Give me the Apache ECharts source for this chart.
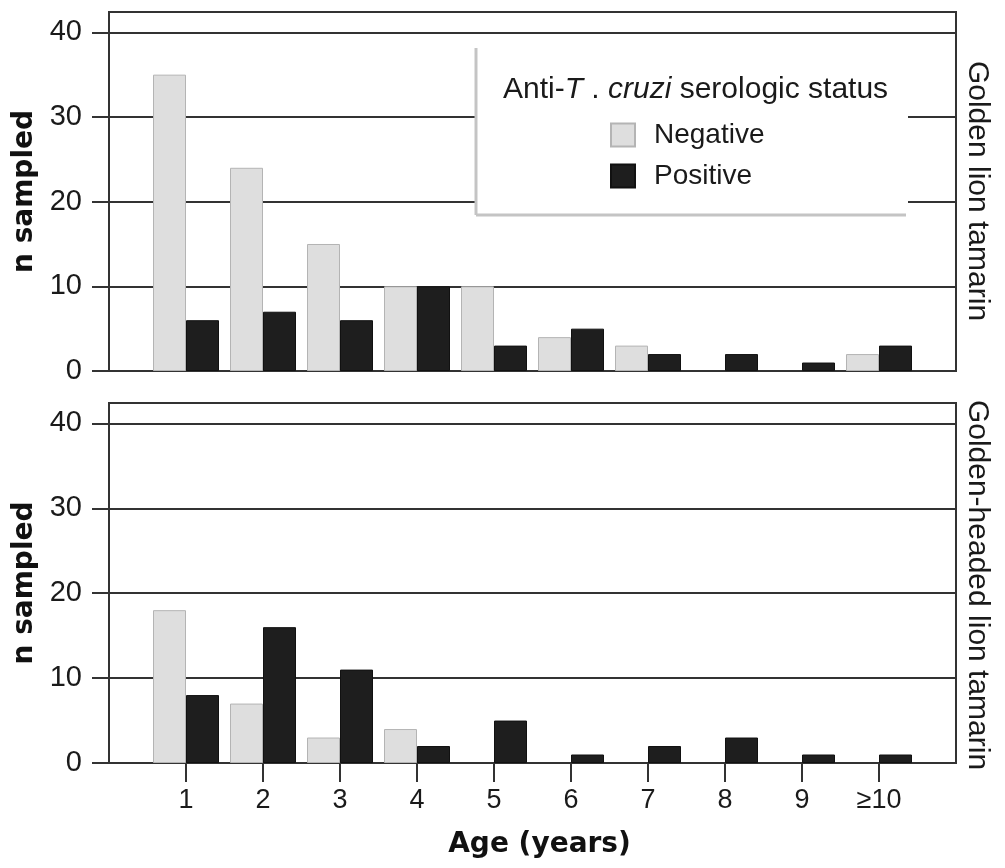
<!DOCTYPE html>
<html>
<head>
<meta charset="utf-8">
<script src="https://cdn.jsdelivr.net/npm/echarts@6/dist/echarts.min.js"></script>
<style>
  html, body { margin: 0; padding: 0; background: #ffffff; }
  #chart { width: 1005px; height: 868px; }
</style>
</head>
<body>
<div id="chart"></div>
<script>
// ---- Data ----
const ageCategories = ['1', '2', '3', '4', '5', '6', '7', '8', '9', '\u226510'];
const seriesNames = ['Negative', 'Positive'];
const panelNames = ['Golden lion tamarin', 'Golden-headed lion tamarin'];

const goldenNegative = [35, 24, 15, 10, 10, 4, 3, 0, 0, 2];
const goldenPositive = [6, 7, 6, 10, 3, 5, 2, 2, 1, 3];

const headedNegative = [18, 7, 3, 4, 0, 0, 0, 0, 0, 0];
const headedPositive = [8, 16, 11, 2, 5, 1, 2, 3, 1, 1];

const yTicks = [0, 10, 20, 30, 40];

// ---- Build ----
// padding slots on both ends so ticks sit where the reference places them
const categories = [''].concat(ageCategories, ['']);
function pad(arr) {
  return [null].concat(arr.map(v => v === 0 ? { value: 0, itemStyle: { borderWidth: 0, opacity: 0 } } : v), [null]);
}

const FONT = '"Liberation Sans", Arial, sans-serif';
const BOLD = '"DejaVu Sans", sans-serif';
const INK = '#1a1a1a';
const LINE = '#333333';

const grids = [
  { left: 109, right: 49, top: 12, height: 359 },
  { left: 109, right: 49, top: 403, height: 360 }
].map(g => Object.assign({
  show: true, borderColor: LINE, borderWidth: 2, backgroundColor: 'transparent'
}, g));

const isAge = (idx) => idx > 0 && idx < categories.length - 1;

const xAxes = [0, 1].map(i => ({
  type: 'category',
  gridIndex: i,
  data: categories,
  boundaryGap: false,
  axisLine: { show: true, lineStyle: { color: LINE, width: 2 } },
  axisTick: i === 1
    ? { show: true, interval: isAge, length: 19, lineStyle: { color: LINE, width: 2 } }
    : { show: false },
  axisLabel: i === 1
    ? { show: true, interval: isAge, margin: 24, fontSize: 27, fontFamily: FONT, color: INK }
    : { show: false },
  splitLine: { show: false },
  name: i === 1 ? 'Age (years)' : '',
  nameLocation: 'middle',
  nameGap: 68,
  nameTextStyle: { fontFamily: BOLD, fontWeight: 'bold', fontSize: 28, color: '#111', padding: [0, 0, 0, 14] }
}));

const yAxes = [0, 1].map(i => ({
  type: 'value',
  gridIndex: i,
  min: 0,
  max: 42.4,
  interval: 10,
  axisLine: { show: true, lineStyle: { color: LINE, width: 2 } },
  axisTick: { show: true, inside: false, length: 17, customValues: yTicks, lineStyle: { color: LINE, width: 2 } },
  axisLabel: { show: true, customValues: yTicks, margin: 27, fontSize: 29, fontFamily: FONT, color: INK },
  splitLine: { show: true, lineStyle: { color: LINE, width: 2 } },
  name: 'n sampled',
  nameLocation: 'middle',
  nameGap: 70,
  nameTextStyle: { fontFamily: BOLD, fontWeight: 'bold', fontSize: 28, color: '#111' }
}));

const negStyle = { color: '#dedede', borderColor: '#b4b4b4', borderWidth: 1 };
const posStyle = { color: '#1e1e1e', borderColor: '#111111', borderWidth: 1 };

function bar(name, data, i, style) {
  return {
    name: name, type: 'bar', xAxisIndex: i, yAxisIndex: i,
    data: pad(data), barWidth: 33, barGap: '0%',
    itemStyle: style, emphasis: { disabled: true }, z: 2
  };
}

const series = [
  bar(seriesNames[0], goldenNegative, 0, negStyle),
  bar(seriesNames[1], goldenPositive, 0, posStyle),
  bar(seriesNames[0], headedNegative, 1, negStyle),
  bar(seriesNames[1], headedPositive, 1, posStyle)
];

const option = {
  backgroundColor: '#ffffff',
  animation: false,
  grid: grids,
  xAxis: xAxes,
  yAxis: yAxes,
  series: series,
  legend: {
    data: seriesNames,
    orient: 'vertical',
    left: 610,
    top: 121,
    padding: 0,
    itemWidth: 24,
    itemHeight: 23,
    itemGap: 13,
    icon: 'rect',
    selectedMode: false,
    z: 20,
    textStyle: { fontSize: 28, fontFamily: FONT, color: INK, padding: [0, 0, 0, 14] }
  },
  graphic: [
    { type: 'rect', z: 10, shape: { x: 476, y: 48, width: 432, height: 167 }, style: { fill: '#ffffff' } },
    { type: 'line', z: 11, shape: { x1: 476, y1: 48, x2: 476, y2: 215 }, style: { stroke: '#c4c4c4', lineWidth: 3 } },
    { type: 'line', z: 11, shape: { x1: 476, y1: 215, x2: 906, y2: 215 }, style: { stroke: '#c4c4c4', lineWidth: 3 } },
    {
      type: 'text', z: 12, x: 503, y: 90,
      style: {
        text: '{n|Anti-}{i|T}{n| . }{i|cruzi}{n| serologic status}',
        verticalAlign: 'middle', align: 'left',
        rich: {
          n: { fontSize: 30, fontFamily: FONT, fill: INK, color: INK },
          i: { fontSize: 30, fontFamily: FONT, fontStyle: 'italic', fill: INK, color: INK }
        }
      }
    },
    {
      type: 'text', z: 12, x: 977, y: 191, rotation: -Math.PI / 2,
      style: { text: panelNames[0], fontSize: 30, fontFamily: FONT, fill: INK, align: 'center', verticalAlign: 'middle' }
    },
    {
      type: 'text', z: 12, x: 977, y: 585, rotation: -Math.PI / 2,
      style: { text: panelNames[1], fontSize: 30, fontFamily: FONT, fill: INK, align: 'center', verticalAlign: 'middle' }
    }
  ]
};

const chart = echarts.init(document.getElementById('chart'), null, { renderer: 'canvas' });
chart.setOption(option);
</script>
</body>
</html>
